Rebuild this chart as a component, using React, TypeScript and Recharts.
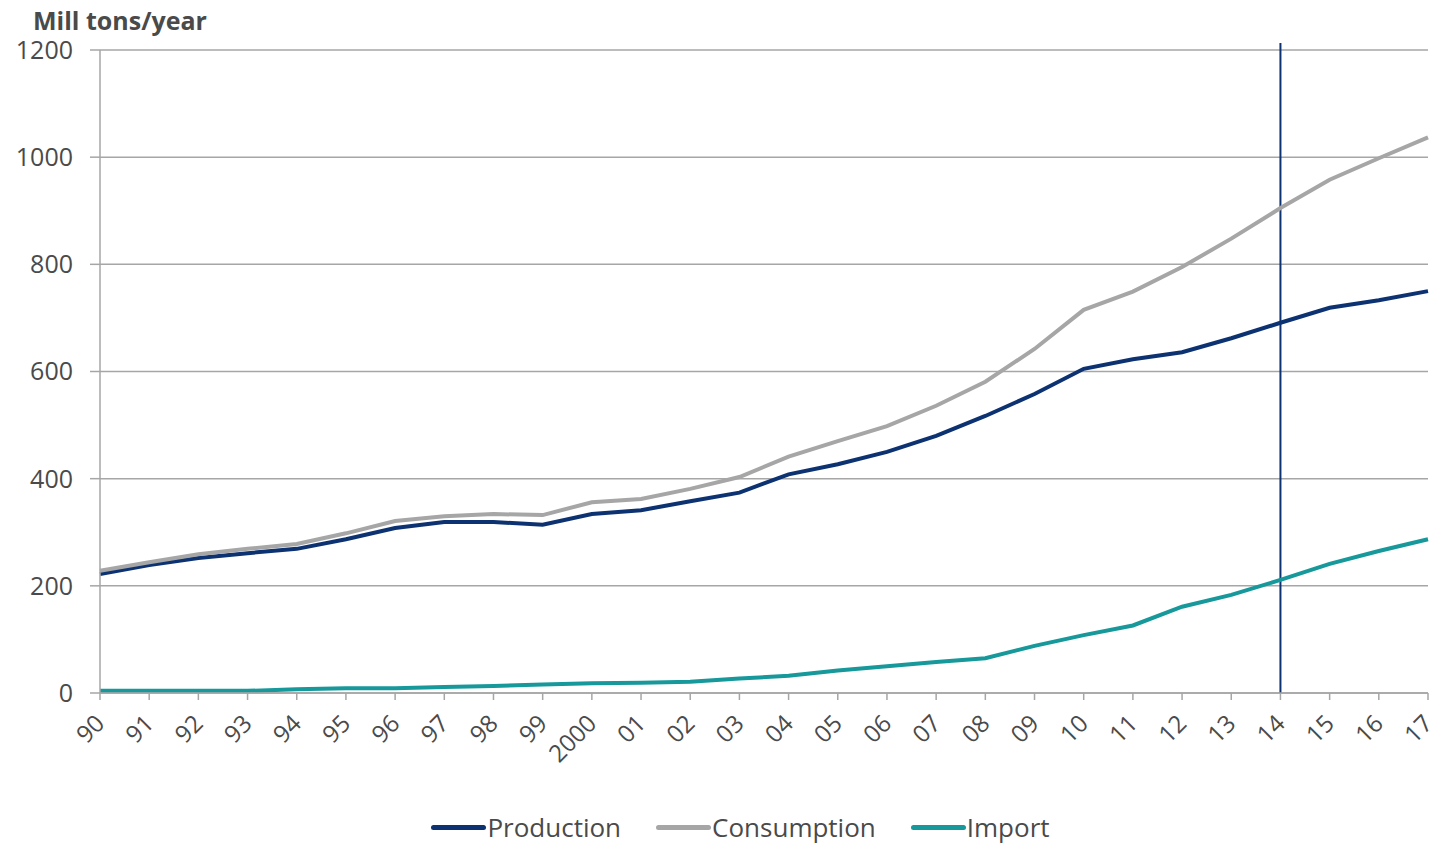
import React from "react";
import { LineChart, Line, XAxis, YAxis, CartesianGrid, ReferenceLine } from "recharts";

const years = ["90","91","92","93","94","95","96","97","98","99","2000","01","02","03","04","05","06","07","08","09","10","11","12","13","14","15","16","17"];
const production = [222,239,252,261,269,287,308,319,319,314,334,341,358,374,408,427,450,480,517,558,605,623,636,662,691,719,733,750];
const consumption = [228,244,259,269,278,298,321,330,334,332,356,362,381,403,441,470,498,536,581,642,715,749,795,848,905,958,998,1037];
const imports = [4,4,4,4,7,9,9,11,13,16,18,19,21,27,32,42,50,58,65,88,108,126,161,183,211,241,265,287];
const yTicks = [0,200,400,600,800,1000,1200];
const markerYear = "14";
const markerTop = 1213;

const series = [
  { key: "production", name: "Production", color: "#0d3271" },
  { key: "consumption", name: "Consumption", color: "#a6a6a6" },
  { key: "import", name: "Import", color: "#17989b" },
];

const data = years.map((y, i) => ({ year: y, production: production[i], consumption: consumption[i], import: imports[i] }));

const FONT = "'Open Sans', sans-serif";
const TEXT = "#4a4a4a";

function XTick(props: any) {
  const { x, y, payload } = props;
  return (
    <g transform={`translate(${x + 6},${y + 23})`}>
      <text x={0} y={0} textAnchor="end" transform="rotate(-45)" fill={TEXT} fontSize={24} fontFamily={FONT}>
        {payload.value}
      </text>
    </g>
  );
}

function LegendContent() {
  return (
    <div style={{ display: "flex", justifyContent: "center", alignItems: "center", fontFamily: FONT, fontSize: 26, color: TEXT }}>
      {series.map((s, i) => (
        <div key={s.key} style={{ display: "flex", alignItems: "center", marginLeft: i === 0 ? 0 : 35 }}>
          <div style={{ width: 55, height: 5, borderRadius: 3, background: s.color, marginRight: 1 }} />
          <span>{s.name}</span>
        </div>
      ))}
    </div>
  );
}

export default function App() {
  return (
    <div style={{ position: "absolute", left: 0, top: 0, width: 1431, height: 844, background: "#fff", overflow: "hidden" }}>
      <div style={{ position: "absolute", left: 33, top: 8, fontFamily: FONT, fontWeight: 700, fontSize: 25, lineHeight: "25px", color: TEXT }}>
        Mill tons/year
      </div>
      <LineChart width={1431} height={844} data={data} margin={{ top: 50, right: 3, bottom: 0, left: 0 }}>
        <CartesianGrid vertical={false} stroke="#a6a6a6" strokeWidth={1.5} />
        <XAxis
          dataKey="year"
          interval={0}
          tick={<XTick />}
          tickSize={7}
          tickLine={{ stroke: "#a6a6a6", strokeWidth: 1.5 }}
          axisLine={{ stroke: "#a6a6a6", strokeWidth: 1.5 }}
          height={151}
        />
        <YAxis
          domain={[0, 1200]}
          ticks={yTicks}
          interval={0}
          width={100}
          tickSize={10}
          tickMargin={17}
          tick={{ fill: TEXT, fontSize: 25, fontFamily: FONT }}
          tickLine={{ stroke: "#a6a6a6", strokeWidth: 1.5 }}
          axisLine={{ stroke: "#a6a6a6", strokeWidth: 1.5 }}
        />
        <ReferenceLine
          segment={[{ x: markerYear, y: 0 }, { x: markerYear, y: markerTop }]}
          ifOverflow="visible"
          stroke="#0d3271"
          strokeWidth={2}
        />
        {series.map((s) => (
          <Line key={s.key} type="linear" dataKey={s.key} name={s.name} stroke={s.color} strokeWidth={4} dot={false} isAnimationActive={false} />
        ))}
      </LineChart>
      <div style={{ position: "absolute", left: 50, top: 809, width: 1381 }}>
        <LegendContent />
      </div>
    </div>
  );
}
